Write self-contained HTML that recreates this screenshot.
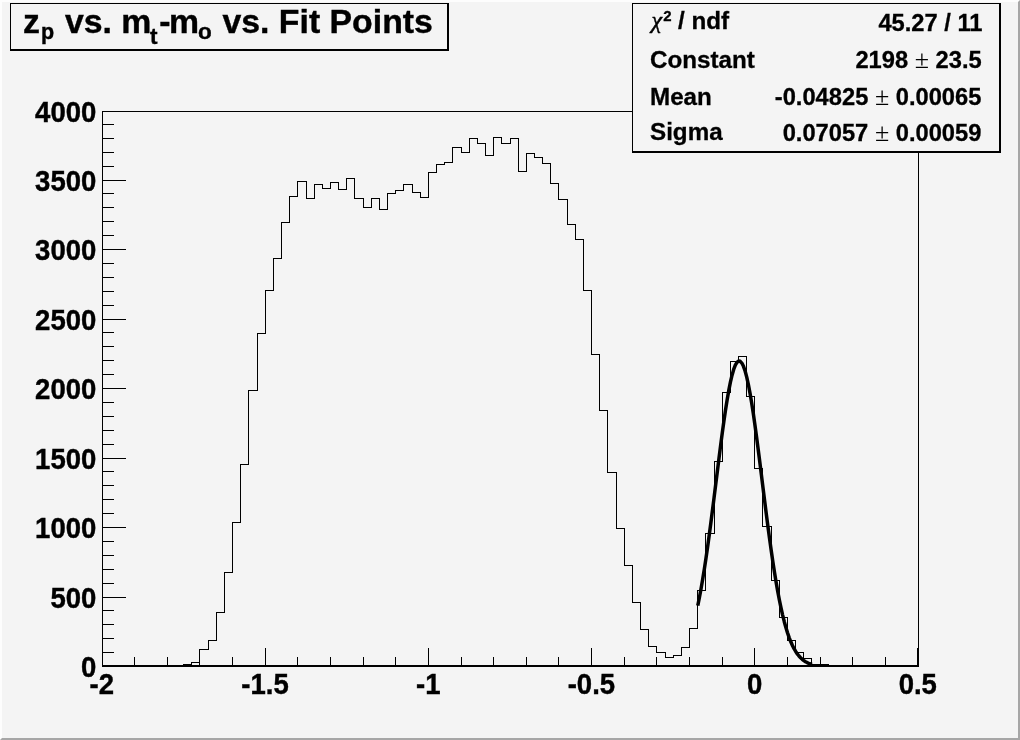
<!DOCTYPE html>
<html lang="en">
<head>
<meta charset="utf-8">
<title>zp vs. mt-mo vs. Fit Points</title>
<style>
html,body{margin:0;padding:0;background:#f4f4f4;}
body{width:1020px;height:740px;overflow:hidden;}
svg{display:block;}
text{font-family:"Liberation Sans",Arial,Helvetica,sans-serif;font-weight:bold;fill:#000;}
.sym{font-family:"Liberation Serif","DejaVu Serif",serif;font-weight:normal;stroke:none;}
tspan.sym{font-size:26px;}
</style>
</head>
<body>
<svg width="1020" height="740" viewBox="0 0 1020 740">
<rect x="0" y="0" width="1020" height="740" fill="#f4f4f4"/>
<!-- canvas bevel -->
<path d="M0 0H1020L1018 2H2V738L0 740Z" fill="#fdfdfd"/>
<path d="M1020 740H0L2 738H1018V2L1020 0Z" fill="#a6a6a6"/>
<g shape-rendering="crispEdges" fill="none" stroke="#000" stroke-width="1">
<!-- frame -->
<rect x="102.5" y="111.5" width="816" height="554.5"/>
<path d="M102 666H919" stroke-width="2"/>
<path d="M102.5 666V648M134.5 666V657M167.5 666V657M199.5 666V657M232.5 666V657M265.5 666V648M297.5 666V657M330.5 666V657M363.5 666V657M395.5 666V657M428.5 666V648M461.5 666V657M493.5 666V657M526.5 666V657M558.5 666V657M591.5 666V648M624.5 666V657M656.5 666V657M689.5 666V657M722.5 666V657M754.5 666V648M787.5 666V657M820.5 666V657M852.5 666V657M885.5 666V657M917.5 666V648M103 666.5H126M103 652.5H114M103 638.5H114M103 624.5H114M103 610.5H114M103 597.5H126M103 583.5H114M103 569.5H114M103 555.5H114M103 541.5H114M103 527.5H126M103 513.5H114M103 499.5H114M103 485.5H114M103 471.5H114M103 458.5H126M103 444.5H114M103 430.5H114M103 416.5H114M103 402.5H114M103 388.5H126M103 374.5H114M103 360.5H114M103 346.5H114M103 332.5H114M103 319.5H126M103 305.5H114M103 291.5H114M103 277.5H114M103 263.5H114M103 249.5H126M103 235.5H114M103 221.5H114M103 207.5H114M103 193.5H114M103 180.5H126M103 166.5H114M103 152.5H114M103 138.5H114M103 124.5H114"/>
<!-- histogram -->
<path d="M102.5 665.5L183.5 665.5L183.5 664.5L191.5 664.5L191.5 662.5L199.5 662.5L199.5 649.5L208.5 649.5L208.5 640.5L216.5 640.5L216.5 612.5L224.5 612.5L224.5 572.5L232.5 572.5L232.5 522.5L240.5 522.5L240.5 464.5L248.5 464.5L248.5 390.5L257.5 390.5L257.5 333.5L265.5 333.5L265.5 290.5L273.5 290.5L273.5 258.5L281.5 258.5L281.5 222.5L289.5 222.5L289.5 196.5L297.5 196.5L297.5 181.5L306.5 181.5L306.5 198.5L314.5 198.5L314.5 184.5L322.5 184.5L322.5 188.5L330.5 188.5L330.5 182.5L338.5 182.5L338.5 189.5L346.5 189.5L346.5 178.5L354.5 178.5L354.5 198.5L363.5 198.5L363.5 207.5L371.5 207.5L371.5 198.5L379.5 198.5L379.5 209.5L387.5 209.5L387.5 193.5L395.5 193.5L395.5 190.5L403.5 190.5L403.5 184.5L412.5 184.5L412.5 192.5L420.5 192.5L420.5 197.5L428.5 197.5L428.5 172.5L436.5 172.5L436.5 164.5L444.5 164.5L444.5 162.5L452.5 162.5L452.5 147.5L461.5 147.5L461.5 152.5L469.5 152.5L469.5 138.5L477.5 138.5L477.5 143.5L485.5 143.5L485.5 155.5L493.5 155.5L493.5 137.5L501.5 137.5L501.5 143.5L510.5 143.5L510.5 138.5L518.5 138.5L518.5 171.5L526.5 171.5L526.5 153.5L534.5 153.5L534.5 157.5L542.5 157.5L542.5 163.5L550.5 163.5L550.5 183.5L558.5 183.5L558.5 199.5L567.5 199.5L567.5 224.5L575.5 224.5L575.5 239.5L583.5 239.5L583.5 290.5L591.5 290.5L591.5 354.5L599.5 354.5L599.5 410.5L607.5 410.5L607.5 472.5L616.5 472.5L616.5 528.5L624.5 528.5L624.5 565.5L632.5 565.5L632.5 602.5L640.5 602.5L640.5 629.5L648.5 629.5L648.5 646.5L656.5 646.5L656.5 652.5L665.5 652.5L665.5 657.5L673.5 657.5L673.5 655.5L681.5 655.5L681.5 647.5L689.5 647.5L689.5 628.5L697.5 628.5L697.5 590.5L705.5 590.5L705.5 533.5L714.5 533.5L714.5 461.5L722.5 461.5L722.5 392.5L730.5 392.5L730.5 361.5L738.5 361.5L738.5 356.5L746.5 356.5L746.5 396.5L754.5 396.5L754.5 468.5L762.5 468.5L762.5 526.5L771.5 526.5L771.5 580.5L779.5 580.5L779.5 617.5L787.5 617.5L787.5 640.5L795.5 640.5L795.5 652.5L803.5 652.5L803.5 658.5L811.5 658.5L811.5 664.5L828.5 664.5L828.5 665.5L918.5 665.5"/>
</g>
<!-- fit -->
<path d="M697.78 605.61L699.41 597.52L701.04 588.75L702.68 579.3L704.31 569.19L705.94 558.46L707.57 547.14L709.2 535.29L710.84 522.99L712.47 510.32L714.1 497.39L715.73 484.3L717.36 471.18L719 458.17L720.63 445.4L722.26 433.02L723.89 421.18L725.52 410.04L727.16 399.73L728.79 390.4L730.42 382.17L732.05 375.16L733.68 369.48L735.32 365.2L736.95 362.39L738.58 361.09L740.21 361.32L741.84 363.07L743.48 366.33L745.11 371.04L746.74 377.13L748.37 384.52L750 393.09L751.64 402.73L753.27 413.3L754.9 424.67L756.53 436.68L758.16 449.19L759.8 462.05L761.43 475.11L763.06 488.23L764.69 501.29L766.32 514.15L767.96 526.72L769.59 538.89L771.22 550.59L772.85 561.74L774.48 572.29L776.12 582.21L777.75 591.46L779.38 600.02L781.01 607.91L782.64 615.12L784.28 621.66L785.91 627.57L787.54 632.87L789.17 637.59L790.8 641.78L792.44 645.46L794.07 648.69L795.7 651.49L797.33 653.92L798.96 656.01L800.6 657.79L802.23 659.31L803.86 660.59L805.49 661.67L807.12 662.57L808.76 663.32L810.39 663.94L812.02 664.45" fill="none" stroke="#000" stroke-width="3.5" stroke-linejoin="round"/>
<g font-size="28" stroke="#000" stroke-width="0.4">
<text transform="translate(101.8 693.5) scale(0.983 1.063)" text-anchor="middle">-2</text>
<text transform="translate(265 693.5) scale(0.983 1.063)" text-anchor="middle">-1.5</text>
<text transform="translate(428.2 693.5) scale(0.983 1.063)" text-anchor="middle">-1</text>
<text transform="translate(591.4 693.5) scale(0.983 1.063)" text-anchor="middle">-0.5</text>
<text transform="translate(754.6 693.5) scale(0.983 1.063)" text-anchor="middle">0</text>
<text transform="translate(917.8 693.5) scale(0.983 1.063)" text-anchor="middle">0.5</text>
<text transform="translate(96.3 677.1) scale(0.983 1.063)" text-anchor="end">0</text>
<text transform="translate(96.3 608.1) scale(0.983 1.063)" text-anchor="end">500</text>
<text transform="translate(96.3 538.1) scale(0.983 1.063)" text-anchor="end">1000</text>
<text transform="translate(96.3 469.1) scale(0.983 1.063)" text-anchor="end">1500</text>
<text transform="translate(96.3 399.1) scale(0.983 1.063)" text-anchor="end">2000</text>
<text transform="translate(96.3 330.1) scale(0.983 1.063)" text-anchor="end">2500</text>
<text transform="translate(96.3 260.1) scale(0.983 1.063)" text-anchor="end">3000</text>
<text transform="translate(96.3 191.1) scale(0.983 1.063)" text-anchor="end">3500</text>
<text transform="translate(96.3 122) scale(0.983 1.063)" text-anchor="end">4000</text>
</g>
<!-- title -->
<rect x="10" y="3" width="439" height="48" fill="#000" shape-rendering="crispEdges"/>
<rect x="11" y="4" width="436" height="45" fill="#f4f4f4" shape-rendering="crispEdges"/>
<g font-size="33.8" stroke="#000" stroke-width="0.4">
<text x="23" y="33">z</text>
<text x="41" y="39.2" font-size="21.5">p</text>
<text x="65" y="33">vs. m</text>
<text x="150" y="44.3" font-size="22.5">t</text>
<text x="159.2" y="33">-</text>
<text x="168.9" y="33">m</text>
<text x="197.9" y="39.1" font-size="22.5">o</text>
<text x="222.5" y="33">vs. Fit Points</text>
</g>
<!-- stats -->
<rect x="632" y="3" width="369" height="150" fill="#000" shape-rendering="crispEdges"/>
<rect x="633" y="4" width="366" height="147" fill="#f4f4f4" shape-rendering="crispEdges"/>
<g font-size="24.2" stroke="#000" stroke-width="0.3">
<text x="651.5" y="28.3" class="sym" font-style="italic" font-size="24" style="stroke:#000;stroke-width:0.5px">&#967;</text>
<text x="663.3" y="21.4" font-size="15">2</text>
<text x="678" y="29">/ ndf</text>
<text x="650" y="68">Constant</text>
<text x="650" y="104.6">Mean</text>
<text x="650" y="140">Sigma</text>
</g>
<g font-size="23.7" text-anchor="end" stroke="#000" stroke-width="0.3">
<text x="982.5" y="31.3">45.27 / 11</text>
<text x="981.7" y="68.3">2198 <tspan class="sym">&#177;</tspan> 23.5</text>
<text x="981.4" y="104.6">-0.04825 <tspan class="sym">&#177;</tspan> 0.00065</text>
<text x="981.4" y="140.6">0.07057 <tspan class="sym">&#177;</tspan> 0.00059</text>
</g>
</svg>
</body>
</html>
